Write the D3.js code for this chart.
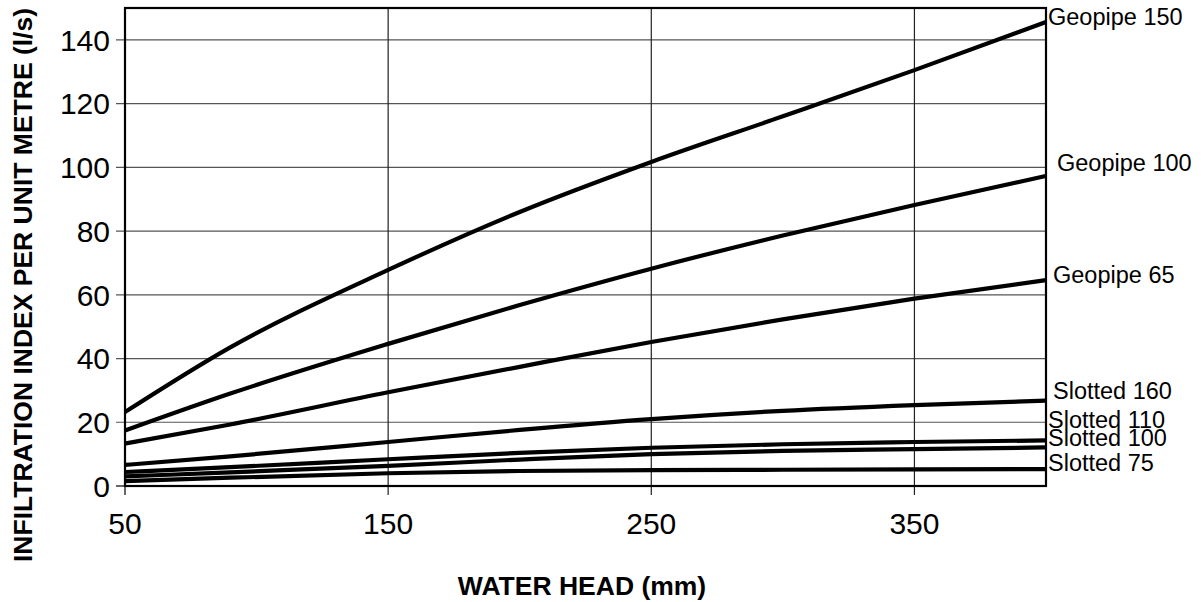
<!DOCTYPE html>
<html><head><meta charset="utf-8">
<script src="https://cdn.jsdelivr.net/npm/d3@7"></script>
<style>body{margin:0;background:#fff;} svg{display:block;font-family:"Liberation Sans",Arial,sans-serif;}</style>
</head><body>
<svg id="c" width="1201" height="602"></svg>
<script>
const waterHead = [50, 90, 150, 200, 250, 300, 350, 400];
const geopipe150 = [23.2, 43.5, 67.8, 86.0, 101.7, 116.0, 130.5, 145.6];
const geopipe100 = [17.4, 29.0, 44.6, 56.8, 68.2, 78.6, 88.2, 97.3];
const geopipe65  = [13.3, 19.3, 29.4, 37.4, 45.2, 52.3, 58.8, 64.6];
const slotted160 = [6.6, 9.3, 13.8, 17.6, 21.0, 23.6, 25.4, 26.8];
const slotted110 = [4.4, 5.9, 8.4, 10.4, 12.0, 13.1, 13.8, 14.3];
const slotted100 = [3.0, 4.3, 6.3, 8.3, 10.0, 11.0, 11.6, 12.1];
const slotted75  = [1.5, 2.6, 4.0, 4.7, 5.0, 5.1, 5.2, 5.3];
const seriesNames = ["Geopipe 150","Geopipe 100","Geopipe 65","Slotted 160","Slotted 110","Slotted 100","Slotted 75"];
const seriesValues = [geopipe150, geopipe100, geopipe65, slotted160, slotted110, slotted100, slotted75];
const xTicks = [50, 150, 250, 350];
const yTicks = [0, 20, 40, 60, 80, 100, 120, 140];

const svg = d3.select("#c");
const L = 125, R = 1046, T = 8, B = 486;
const x = d3.scaleLinear().domain([50, 400]).range([L, R]);
const y = d3.scaleLinear().domain([0, 150]).range([B, T]);

// grid
const g = svg.append("g");
g.selectAll(".hg").data(yTicks.filter(d=>d>0)).join("line")
  .attr("x1", L-9).attr("x2", R).attr("y1", d=>y(d)).attr("y2", d=>y(d))
  .attr("stroke", "#555").attr("stroke-width", 1.2);
g.selectAll(".vg").data(xTicks.filter(d=>d>50)).join("line")
  .attr("y1", T).attr("y2", B+9).attr("x1", d=>x(d)).attr("x2", d=>x(d))
  .attr("stroke", "#222").attr("stroke-width", 1.2);
g.append("line").attr("x1", L-9).attr("x2", L).attr("y1", y(0)).attr("y2", y(0)).attr("stroke","#000").attr("stroke-width",1.2);
g.append("line").attr("x1", L).attr("x2", L).attr("y1", B).attr("y2", B+9).attr("stroke","#000").attr("stroke-width",1.2);

// tick labels
svg.selectAll(".yl").data(yTicks).join("text")
  .attr("x", 110).attr("y", d=>y(d)).attr("dy","0.36em").attr("text-anchor","end")
  .attr("font-size", 30).text(d=>d);
svg.selectAll(".xl").data(xTicks).join("text")
  .attr("x", d=>x(d)).attr("y", 523).attr("dy","0.36em").attr("text-anchor","middle")
  .attr("font-size", 30).text(d=>d);

// lines
const line = d3.line().x((d,i)=>x(waterHead[i])).y(d=>y(d)).curve(d3.curveMonotoneX);
svg.selectAll(".s").data(seriesValues).join("path")
  .attr("d", d=>line(d)).attr("fill","none").attr("stroke","#000").attr("stroke-width",4.2)
  .attr("stroke-linejoin","round");

// frame
svg.append("rect").attr("x", L).attr("y", T).attr("width", R-L).attr("height", B-T)
  .attr("fill","none").attr("stroke","#000").attr("stroke-width",2.2);

// series labels
const labelDx = [2, 11, 7, 7, 2, 2, 2];
const labelDy = [-5.5, -13.5, -5, -10, -21, -9.5, -6];
svg.selectAll(".lab").data(seriesNames).join("text")
  .attr("x", (d,i)=>R + labelDx[i])
  .attr("y", (d,i)=>y(seriesValues[i][seriesValues[i].length-1]) + labelDy[i])
  .attr("dy","0.35em").attr("font-size", 23.5).text(d=>d);

// axis titles
svg.append("text").attr("x", 582).attr("y", 595).attr("text-anchor","middle")
  .attr("font-size", 26.5).attr("font-weight","bold").text("WATER HEAD (mm)");
svg.append("text").attr("transform","translate(23,285) rotate(-90)").attr("dy","0.35em").attr("text-anchor","middle")
  .attr("font-size", 26.5).attr("font-weight","bold").text("INFILTRATION INDEX PER UNIT METRE (l/s)");
</script>
</body></html>
